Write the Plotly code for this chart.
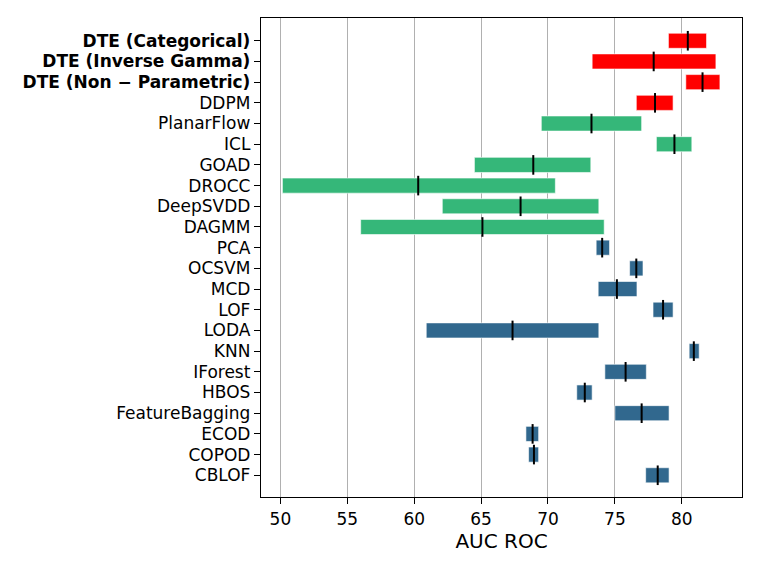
import plotly.graph_objs as go

# methods, top to bottom
methods = ['DTE (Categorical)', 'DTE (Inverse Gamma)', 'DTE (Non − Parametric)', 'DDPM',
           'PlanarFlow', 'ICL', 'GOAD', 'DROCC', 'DeepSVDD', 'DAGMM', 'PCA', 'OCSVM', 'MCD',
           'LOF', 'LODA', 'KNN', 'IForest', 'HBOS', 'FeatureBagging', 'ECOD', 'COPOD', 'CBLOF']
groups = ['dte', 'dte', 'dte', 'dte', 'deep', 'deep', 'deep', 'deep', 'deep', 'deep',
          'classic', 'classic', 'classic', 'classic', 'classic', 'classic', 'classic',
          'classic', 'classic', 'classic', 'classic', 'classic']
bold = ['DTE (Categorical)', 'DTE (Inverse Gamma)', 'DTE (Non − Parametric)']
low = [79.0, 73.3, 80.3, 76.6, 69.5, 78.1, 64.5, 50.15, 62.1, 56.0, 73.6, 76.1, 73.75,
       77.85, 60.9, 80.55, 74.25, 72.15, 75.0, 68.35, 68.55, 77.3]
high = [81.85, 82.55, 82.85, 79.35, 77.0, 80.75, 73.2, 70.55, 73.8, 74.2, 74.6, 77.1, 76.65,
        79.35, 73.8, 81.3, 77.35, 73.3, 79.05, 69.3, 69.3, 79.05]
median = [80.45, 77.9, 81.55, 78.0, 73.25, 79.45, 68.9, 60.3, 67.95, 65.1, 74.05, 76.6, 75.15,
          78.6, 67.35, 80.9, 75.8, 72.75, 77.0, 68.85, 68.95, 78.2]
x_ticks = [50, 55, 60, 65, 70, 75, 80]

colors = {'dte': '#ff0000', 'deep': '#35b779', 'classic': '#31688e'}
labels = ['<b>' + m + '</b>' if m in bold else m for m in methods]

fig = go.Figure()
fig.add_trace(go.Bar(
    y=labels, x=[h - l for l, h in zip(low, high)], base=low, orientation='h',
    width=0.73, marker=dict(color=[colors[g] for g in groups],
                            line=dict(color='rgba(255,255,255,0.6)', width=1)),
    showlegend=False))
fig.add_trace(go.Scatter(
    y=labels, x=median, mode='markers', showlegend=False,
    marker=dict(symbol='line-ns', size=14, line=dict(color='black', width=2))))

# page body has an 8px margin, so margins are shifted to land the axes where they should
fig.update_layout(
    width=761, height=571, plot_bgcolor='white', paper_bgcolor='white',
    margin=dict(l=253, r=27, t=10, b=82),
    font=dict(family='DejaVu Sans', size=17, color='black'),
)
fig.update_xaxes(range=[48.55, 84.5], tickvals=x_ticks, showgrid=True, gridcolor='#b0b0b0',
                 gridwidth=1.4, ticks='outside', ticklen=6, tickwidth=1.4, tickcolor='black',
                 showline=True, linecolor='black', linewidth=1.4, mirror=True, zeroline=False,
                 title=dict(text='AUC ROC', standoff=4))
fig.update_yaxes(type='category', categoryorder='array', categoryarray=labels,
                 tickmode='array', tickvals=labels, ticktext=labels,
                 range=[21 + 1.05, -1.1], ticks='outside', ticklen=6, tickwidth=1.4,
                 tickcolor='black', showline=True, linecolor='black', linewidth=1.4,
                 mirror=True, showgrid=False)

fig.write_html("out.html")
